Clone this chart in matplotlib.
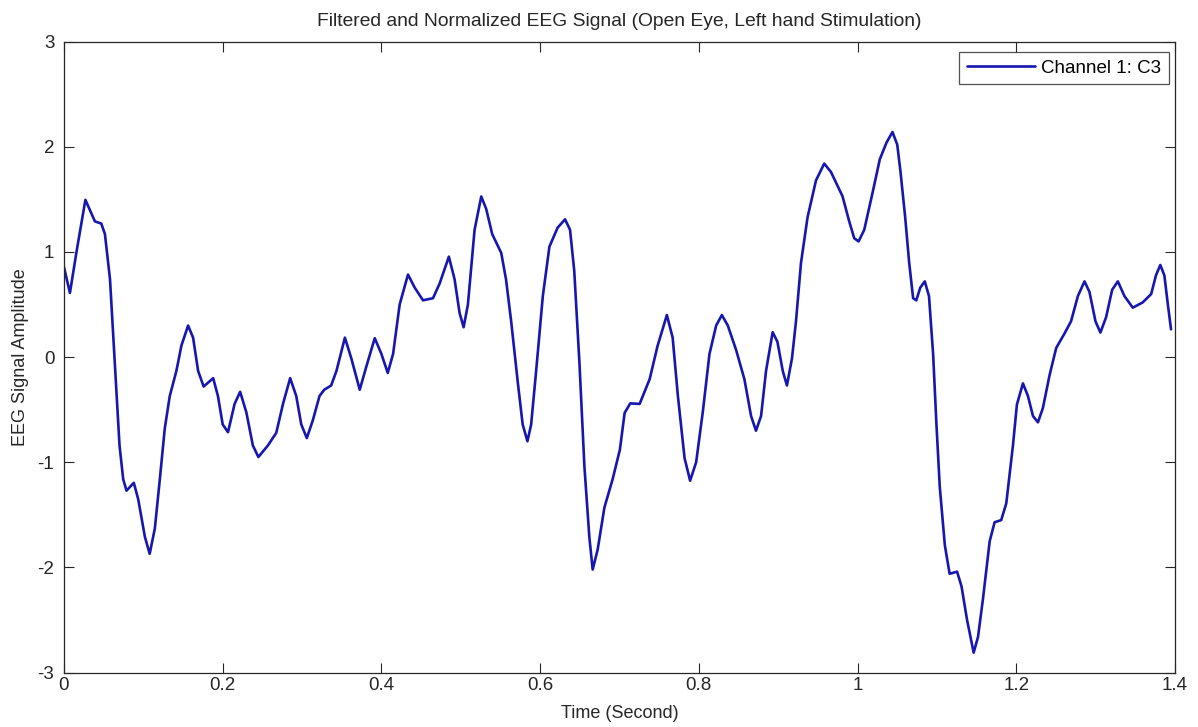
import matplotlib
matplotlib.use("Agg")
import matplotlib.pyplot as plt

# Channel C3, filtered and normalized EEG amplitude over time (seconds)
time_s = [
    0.000, 0.0075, 0.016, 0.027, 0.039, 0.047, 0.0516, 0.058, 0.064, 0.070,
    0.0746, 0.0788, 0.088, 0.0935, 0.102, 0.108, 0.1145, 0.1208, 0.127, 0.1333,
    0.1417, 0.148, 0.1564, 0.1627, 0.169, 0.176, 0.188, 0.194, 0.200, 0.2067,
    0.215, 0.222, 0.2298, 0.238, 0.245, 0.257, 0.2675, 0.276, 0.285, 0.2927,
    0.299, 0.306, 0.3136, 0.322, 0.328, 0.3367, 0.3434, 0.354, 0.362, 0.3727,
    0.381, 0.3916, 0.400, 0.408, 0.4147, 0.423, 0.4335, 0.442, 0.4524, 0.465,
    0.4734, 0.485, 0.4922, 0.4985, 0.5036, 0.509, 0.5174, 0.5258, 0.532, 0.5396,
    0.551, 0.557, 0.5635, 0.572, 0.578, 0.584, 0.5887, 0.595, 0.6034, 0.6117,
    0.622, 0.6314, 0.6377, 0.643, 0.6495, 0.6558, 0.662, 0.6662, 0.6725, 0.681,
    0.6914, 0.7005, 0.7065, 0.7136, 0.7254, 0.738, 0.748, 0.7597, 0.767, 0.7736,
    0.782, 0.789, 0.7966, 0.805, 0.8134, 0.8218, 0.829, 0.8365, 0.847, 0.8574,
    0.8658, 0.872, 0.8784, 0.8847, 0.893, 0.899, 0.9057, 0.911, 0.9174, 0.9224,
    0.9287, 0.937, 0.9476, 0.958, 0.9665, 0.981, 0.9895, 0.9958, 1.0013, 1.0084,
    1.019, 1.028, 1.0365, 1.044, 1.050, 1.054, 1.060, 1.065, 1.070, 1.074,
    1.079, 1.0847, 1.090, 1.0952, 1.0994, 1.1036, 1.110, 1.116, 1.1254, 1.131,
    1.138, 1.1463, 1.1518, 1.158, 1.1665, 1.1727, 1.181, 1.1874, 1.1958, 1.2008,
    1.2084, 1.2147, 1.221, 1.2273, 1.2335, 1.242, 1.2503, 1.2608, 1.269, 1.2776,
    1.286, 1.2922, 1.2998, 1.306, 1.3132, 1.3208, 1.328, 1.3363, 1.3468, 1.3593,
    1.370, 1.376, 1.3815, 1.3866, 1.391, 1.395,
]
amplitude = [
    0.856, 0.61, 1.01, 1.495, 1.29, 1.27, 1.17, 0.74, -0.05, -0.84,
    -1.16, -1.27, -1.195, -1.35, -1.71, -1.87, -1.63, -1.16, -0.68, -0.37,
    -0.13, 0.11, 0.30, 0.185, -0.13, -0.28, -0.20, -0.37, -0.64, -0.714,
    -0.445, -0.33, -0.525, -0.84, -0.95, -0.84, -0.72, -0.445, -0.20, -0.37,
    -0.64, -0.77, -0.60, -0.37, -0.31, -0.27, -0.13, 0.185, -0.01, -0.31,
    -0.09, 0.18, 0.03, -0.15, 0.03, 0.50, 0.785, 0.66, 0.54, 0.56,
    0.70, 0.955, 0.74, 0.42, 0.284, 0.50, 1.21, 1.527, 1.41, 1.17,
    0.99, 0.74, 0.34, -0.25, -0.64, -0.80, -0.64, -0.13, 0.58, 1.05,
    1.23, 1.31, 1.21, 0.82, -0.05, -1.04, -1.71, -2.02, -1.83, -1.43,
    -1.16, -0.88, -0.53, -0.44, -0.445, -0.21, 0.107, 0.40, 0.185, -0.37,
    -0.96, -1.175, -1.0, -0.52, 0.03, 0.30, 0.40, 0.30, 0.067, -0.21,
    -0.56, -0.70, -0.56, -0.13, 0.237, 0.146, -0.13, -0.27, -0.01, 0.34,
    0.895, 1.33, 1.68, 1.84, 1.76, 1.53, 1.29, 1.13, 1.10, 1.21,
    1.566, 1.88, 2.04, 2.14, 2.02, 1.77, 1.33, 0.90, 0.56, 0.54,
    0.66, 0.72, 0.58, 0.03, -0.64, -1.235, -1.79, -2.06, -2.04, -2.18,
    -2.50, -2.81, -2.66, -2.30, -1.75, -1.57, -1.55, -1.39, -0.84, -0.45,
    -0.25, -0.37, -0.56, -0.62, -0.485, -0.17, 0.087, 0.225, 0.34, 0.58,
    0.72, 0.62, 0.34, 0.233, 0.38, 0.64, 0.72, 0.58, 0.47, 0.52,
    0.60, 0.777, 0.876, 0.777, 0.50, 0.264,
]

x_ticks = [0, 0.2, 0.4, 0.6, 0.8, 1.0, 1.2, 1.4]
x_tick_labels = ["0", "0.2", "0.4", "0.6", "0.8", "1", "1.2", "1.4"]
y_ticks = [-3, -2, -1, 0, 1, 2, 3]
y_tick_labels = ["-3", "-2", "-1", "0", "1", "2", "3"]

plt.rcParams["font.family"] = ["Liberation Sans", "DejaVu Sans"]
ink = "#262626"

fig = plt.figure(figsize=(11.98, 7.27), dpi=100)
ax = fig.add_axes([0.0534, 0.0748, 0.9274, 0.868])

ax.plot(time_s, amplitude, color="#1616b0", linewidth=1.9,
        solid_joinstyle="round", solid_capstyle="round", label="Channel 1: C3")

ax.set_xlim(0, 1.4)
ax.set_ylim(-3, 3)
ax.set_xticks(x_ticks)
ax.set_xticklabels(x_tick_labels)
ax.set_yticks(y_ticks)
ax.set_yticklabels(y_tick_labels)

ax.tick_params(direction="in", length=7.5, width=0.8, top=True, right=True,
               labelsize=13.5, colors=ink)
ax.tick_params(axis="x", pad=3)
ax.tick_params(axis="y", pad=7)
for spine in ax.spines.values():
    spine.set_linewidth(0.9)
    spine.set_color(ink)

ax.set_title("Filtered and Normalized EEG Signal (Open Eye, Left hand Stimulation)",
             fontsize=13.9, color=ink, pad=11.5)
ax.set_xlabel("Time (Second)", fontsize=13, color=ink, labelpad=8)
ax.set_ylabel("EEG Signal Amplitude", fontsize=13, color=ink, labelpad=6)

leg = ax.legend(loc="upper right", bbox_to_anchor=(1 - 6 / 1111, 1 - 10 / 631),
                borderaxespad=0, fontsize=13.5, frameon=True, fancybox=False,
                handlelength=3.6, borderpad=0.42, handletextpad=0.35)
leg.get_frame().set_edgecolor(ink)
leg.get_frame().set_linewidth(0.9)

fig.savefig("out.png", dpi=100, facecolor="white")
